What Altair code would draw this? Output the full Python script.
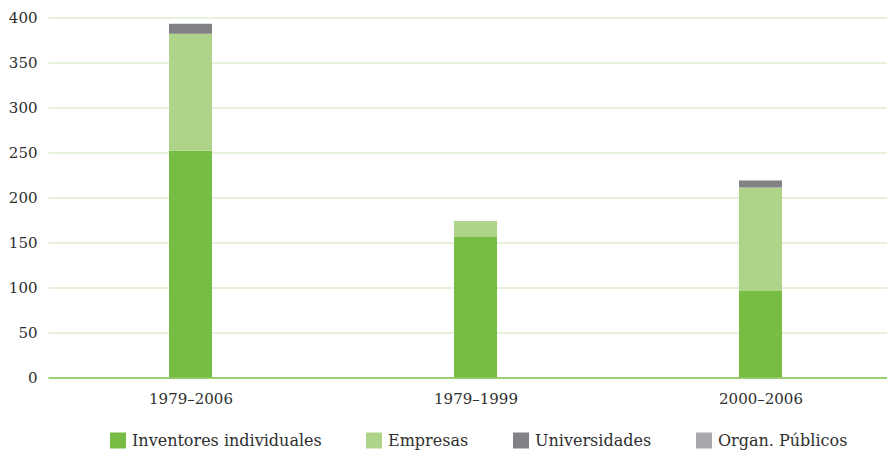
import altair as alt
import pandas as pd
import json

periods = ["1979–2006", "1979–1999", "2000–2006"]
series = ["Inventores individuales", "Empresas", "Universidades", "Organ. Públicos"]
inventores = [252, 156, 96]
empresas = [130, 18, 115]
universidades = [11, 0, 8]
organ = [0, 0, 0]
colors = ["#77bd43", "#aed48a", "#808285", "#a7a9ac"]
y_ticks = [0, 50, 100, 150, 200, 250, 300, 350, 400]

rows = []
for si, (name, vals) in enumerate(zip(series, [inventores, empresas, universidades, organ])):
    for pi, (p, v) in enumerate(zip(periods, vals)):
        rows.append({"periodo": p, "idx": pi, "serie": name, "valor": v, "orden": si})
df = pd.DataFrame(rows)

FONT = "DejaVu Serif"
label_expr = json.dumps(periods, ensure_ascii=False) + "[datum.value]"

PLOT_W = 839
x_max = -0.5 + PLOT_W / 285.0

chart = alt.Chart(df).mark_bar(size=43).encode(
    x=alt.X(
        "idx:Q",
        scale=alt.Scale(domain=[-0.5, x_max], nice=False, zero=False, padding=0),
        axis=alt.Axis(
            title=None, values=[0, 1, 2], labelExpr=label_expr, labelAngle=0,
            ticks=False, grid=False,
            domainColor="#80c350", domainWidth=1.5,
            labelFont=FONT, labelFontSize=15, labelColor="#2e2e2e", labelPadding=14,
        ),
    ),
    y=alt.Y(
        "valor:Q",
        stack="zero",
        scale=alt.Scale(domain=[0, 400], nice=False, padding=0),
        axis=alt.Axis(
            title=None, values=y_ticks, domain=False, ticks=False,
            gridColor="#dcecce", gridWidth=1.5,
            labelFont=FONT, labelFontSize=15, labelColor="#2e2e2e", labelPadding=11,
        ),
    ),
    color=alt.Color(
        "serie:N",
        sort=series,
        scale=alt.Scale(domain=series, range=colors),
        legend=alt.Legend(
            title=None, orient="none", direction="horizontal",
            legendX=62, legendY=415, padding=0,
            symbolType="square", symbolSize=256, symbolStrokeWidth=0, symbolOpacity=1,
            labelFont=FONT, labelFontSize=16, labelColor="#2e2e2e", labelOffset=6,
            columnPadding=44, labelLimit=400,
        ),
    ),
    order=alt.Order("orden:Q", sort="ascending"),
).properties(
    width=PLOT_W, height=360,
    autosize=alt.AutoSizeParams(type="none"),
    padding={"left": 40, "top": 9.5, "right": 0, "bottom": 72.5},
).configure_view(stroke=None)

chart.save("out.html", embed_options={"renderer": "svg", "actions": False})
